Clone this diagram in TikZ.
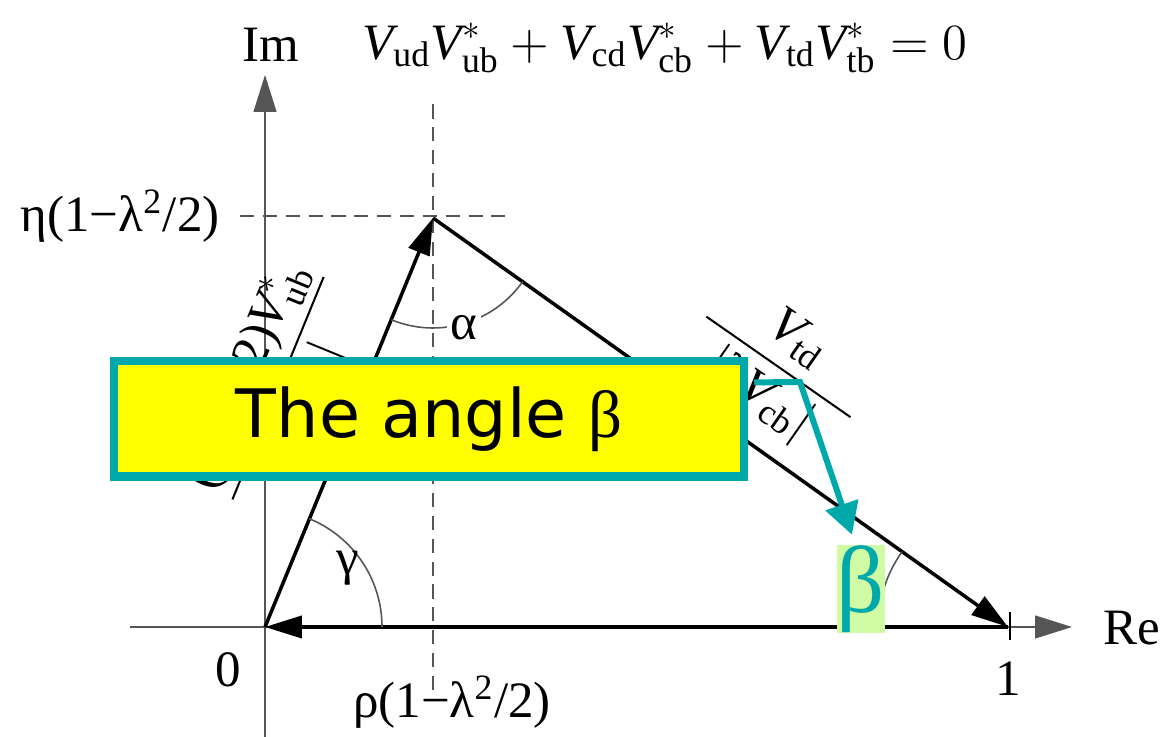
\documentclass[tikz,border=0pt]{standalone}
\usepackage{amsmath}
\usepackage{fontspec}
\setmainfont{Liberation Serif}
\newfontfamily\calloutfont{DejaVu Sans}
\usetikzlibrary{arrows.meta,positioning,calc}
\definecolor{calloutteal}{HTML}{00A9A9}
\definecolor{calloutyellow}{HTML}{FFFF00}
\definecolor{betagreen}{HTML}{D0FBA4}
\definecolor{guidegray}{HTML}{555555}
\newcommand{\Vm}[1]{\text{\itshape V}_{\text{#1}}}
\newcommand{\Vs}[1]{\text{\itshape V}^{*}_{\text{#1}}}

\begin{document}
\begin{tikzpicture}[x=0.01cm,y=0.01cm,font=\fontsize{14.5}{17}\selectfont,
axis/.style={draw=guidegray,line width=.45pt,-{Triangle[length=10.5pt,width=6.5pt]}},
side/.style={line width=1pt,-{Triangle[length=10.5pt,width=6.3pt]}},
guide/.style={draw=guidegray,line width=.45pt,dash pattern=on 4pt off 2.5pt},
callout/.style={draw=calloutteal,fill=calloutyellow,line width=2.3pt,minimum width=6.3cm,minimum height=1.15cm,inner sep=0pt},
pointer/.style={draw=calloutteal,line width=1.7pt,-{Triangle[length=9pt,width=9.5pt]}}]
\useasboundingbox (0,0) rectangle (1167,737);
\coordinate (O) at (265,110);
\coordinate (A) at (433,519);
\coordinate (one) at (1008,110);
% axes and guides
\draw[axis] (130,110) -- (1072,110);
\draw[axis] (265,0) -- (265,662);
\draw[guide] (433,47) -- (433,637);
\draw[guide] (240,521) -- (505,521);
\draw[line width=.6pt] ($(one)+(2,-13)$) -- ($(one)+(2,15)$);
\node (imlabel) at (271,692) {Im};
\node (relabel) at (1132,109) {Re};
\node (zero) at (228,67) {0};
\node (unit) at (1008,58) {1};
\node[anchor=east] (etalabel) at (232,521) {η(1−λ\textsuperscript{2}/2)};
\node (rholabel) at (452,35) {ρ(1−λ\textsuperscript{2}/2)};
\node (relation) at (665,689) {$\Vm{ud}\Vs{ub}+\Vm{cd}\Vs{cb}+\Vm{td}\Vs{tb}=0$};
% triangle
\draw[side] (O) -- (A);
\draw[side] (A) -- (one);
\draw[side] (one) -- (O);
\draw[guidegray,line width=.45pt] (A) ++(247.7:110) arc[start angle=247.7,end angle=324.6,radius=110];
\draw[guidegray,line width=.45pt] (O) ++(0:117) arc[start angle=0,end angle=67.7,radius=117];
\draw[guidegray,line width=.45pt] (one) ++(144.6:130) arc[start angle=144.6,end angle=180,radius=130];
\node[fill=white,inner sep=1pt] (alpha) at (464,409) {α};
\node (gamma) at (348,169) {γ};
\node[rotate=67.7] (ublabel) at (275,350) {$\dfrac{\text{(1−λ}^{2}\text{/2)}\Vs{ub}}{|\text{λ}\Vm{cb}|}$};
\node[rotate=-34.9] (tdlabel) at (777,368) {$\dfrac{\Vm{td}}{\;\;|\text{λ}\Vm{cb}|\;\;}$};
% callout
\node[callout] (anglebox) at (429,318) {\calloutfont\fontsize{19}{22}\selectfont The angle {\rmfamily β}};
\node[fill=betagreen,minimum width=.47cm,minimum height=.82cm,inner sep=0pt,text=calloutteal,font=\fontsize{27}{30}\selectfont] (betalabel) at (861,148) {β};
\coordinate (bend) at (800,355);
\draw[pointer] ($(anglebox.north east)+(6,-25)$) -- (bend) -- ($(betalabel.north)+(-9,10)$);
\end{tikzpicture}
\end{document}
